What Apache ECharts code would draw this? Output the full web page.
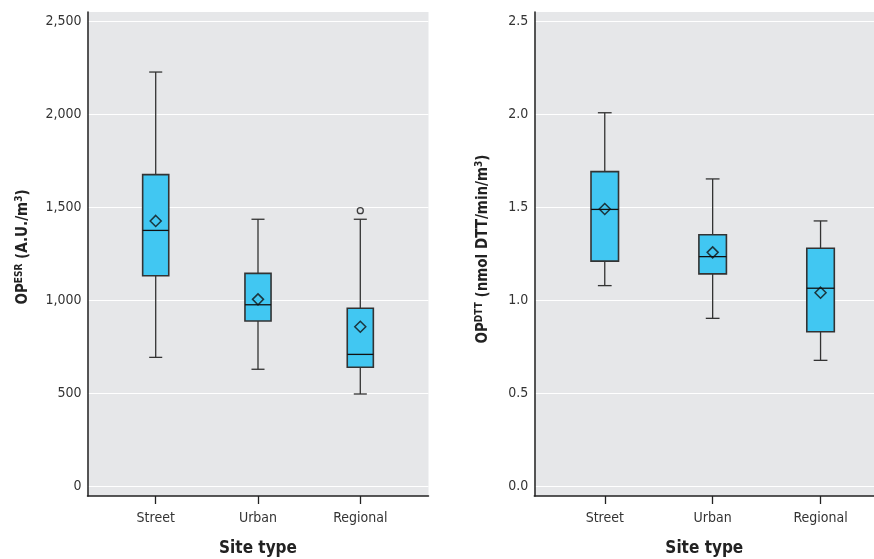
<!DOCTYPE html>
<html>
<head>
<meta charset="utf-8">
<script src="https://cdn.jsdelivr.net/npm/echarts@6/dist/echarts.min.js"></script>
<style>
html,body{margin:0;padding:0;background:#fff;}
#main{width:874px;height:559px;}
</style>
</head>
<body>
<div id="main"></div>
<script>
// ---- data ----
const categories = ['Street', 'Urban', 'Regional'];
// [lower whisker, Q1, median, Q3, upper whisker]
const esrBoxes = [
  [692, 1131, 1375, 1675, 2227],
  [628, 888, 975, 1144, 1435],
  [495, 639, 708, 956, 1435]
];
const esrMeans = [1426, 1004, 857];
const esrOutliers = [[2, 1481]]; // [category index, value]
const dttBoxes = [
  [1.078, 1.210, 1.488, 1.691, 2.008],
  [0.902, 1.141, 1.234, 1.352, 1.652],
  [0.676, 0.830, 1.064, 1.279, 1.426]
];
const dttMeans = [1.490, 1.257, 1.040];
const dttOutliers = [];
const esrTicks = [0, 500, 1000, 1500, 2000, 2500];
const dttTicks = [0, 0.5, 1.0, 1.5, 2.0, 2.5];
const catPositions = [1, 2, 3];

// ---- styles ----
const FONT = '"Liberation Sans Narrow", "DejaVu Sans Condensed", "Roboto Condensed", "Liberation Sans", sans-serif';
const BOX_FILL = '#41C7F2';
const BOX_STROKE = '#333333';
const BG = '#E6E7E9';

function boxData(boxes) {
  return boxes.map((b, i) => [catPositions[i]].concat(b));
}
function meanData(means) {
  return means.map((m, i) => [catPositions[i], m]);
}
function outlierData(out) {
  return out.map(o => [catPositions[o[0]], o[1]]);
}

function renderBox(params, api) {
  const x = api.value(0);
  const lo = api.coord([x, api.value(1)]);
  const q1 = api.coord([x, api.value(2)]);
  const md = api.coord([x, api.value(3)]);
  const q3 = api.coord([x, api.value(4)]);
  const hi = api.coord([x, api.value(5)]);
  const w = api.size([0.255, 0])[0];
  const cx = lo[0];
  const lineStyle = {stroke: BOX_STROKE, lineWidth: 1.3, fill: null};
  return {
    type: 'group',
    children: [
      {type: 'line', shape: {x1: cx, y1: q3[1], x2: cx, y2: hi[1]}, style: lineStyle},
      {type: 'line', shape: {x1: cx - w / 4, y1: hi[1], x2: cx + w / 4, y2: hi[1]}, style: lineStyle},
      {type: 'line', shape: {x1: cx, y1: q1[1], x2: cx, y2: lo[1]}, style: lineStyle},
      {type: 'line', shape: {x1: cx - w / 4, y1: lo[1], x2: cx + w / 4, y2: lo[1]}, style: lineStyle},
      {type: 'rect', shape: {x: cx - w / 2, y: q3[1], width: w, height: q1[1] - q3[1]},
        style: {fill: BOX_FILL, stroke: BOX_STROKE, lineWidth: 1.6}},
      {type: 'line', shape: {x1: cx - w / 2, y1: md[1], x2: cx + w / 2, y2: md[1]},
        style: {stroke: '#111', lineWidth: 1.3}}
    ]
  };
}

function xAxisFor(gridIndex, min, max) {
  return {
    type: 'value', gridIndex: gridIndex, min: min, max: max,
    name: 'Site type', nameLocation: 'middle', nameGap: 44,
    nameTextStyle: {fontFamily: FONT, fontSize: 17, fontWeight: 'bold', color: '#222'},
    axisLine: {show: true, onZero: false, lineStyle: {color: '#222', width: 1.5}},
    axisTick: {show: true, inside: false, length: 8, customValues: catPositions,
      lineStyle: {color: '#222', width: 1.3}},
    axisLabel: {customValues: catPositions, margin: 15, fontFamily: FONT, fontSize: 14, color: '#333',
      formatter: v => categories[Math.round(v) - 1] || ''},
    splitLine: {show: false}
  };
}

function yAxisFor(gridIndex, min, max, ticks, fmt, rich, name, gap, shift) {
  return {
    type: 'value', gridIndex: gridIndex, min: min, max: max,
    name: name, nameLocation: 'middle', nameGap: gap, nameRotate: 90,
    nameTextStyle: {fontFamily: FONT, fontSize: 15, fontWeight: 'bold', color: '#222', rich: rich,
      padding: [0, 0, 0, shift]},
    axisLine: {show: true, lineStyle: {color: '#222', width: 1.5}},
    axisTick: {show: false, customValues: ticks},
    axisLabel: {customValues: ticks, margin: 6, fontFamily: FONT, fontSize: 14, color: '#333', formatter: fmt},
    splitLine: {show: true, lineStyle: {color: '#ffffff', width: 1}}
  };
}

const richTitle = {
  b: {fontFamily: FONT, fontSize: 15, fontWeight: 'bold', color: '#222', lineHeight: 18},
  s: {fontFamily: FONT, fontSize: 10, fontWeight: 'bold', color: '#222', lineHeight: 18, verticalAlign: 'top', padding: [0, 0, 5, 0]}
};

const chart = echarts.init(document.getElementById('main'), null, {renderer: 'canvas'});
chart.setOption({
  animation: false,
  backgroundColor: '#ffffff',
  grid: [
    {left: 87.5, top: 12, width: 341, height: 484, show: true, backgroundColor: BG, borderWidth: 0,
      containLabel: false, outerBoundsMode: 'none'},
    {left: 534.3, top: 12, width: 340, height: 484, show: true, backgroundColor: BG, borderWidth: 0,
      containLabel: false, outerBoundsMode: 'none'}
  ],
  xAxis: [
    xAxisFor(0, 1 - 0.6667, 3 + 0.6667),
    xAxisFor(1, 1 - 0.653, 3 + (874 - 820.3) / 107.8)
  ],
  yAxis: [
    yAxisFor(0, -53.8, 2550, esrTicks,
      v => v.toLocaleString('en-US'), richTitle,
      '{b|OP}{s|ESR}{b| (A.U./m}{s|3}{b|)}', 55, 14),
    yAxisFor(1, -0.0538, 2.55, dttTicks,
      v => v.toFixed(1), richTitle,
      '{b|OP}{s|DTT}{b| (nmol DTT/min/m}{s|3}{b|)}', 42, 10)
  ],
  series: [
    {type: 'custom', xAxisIndex: 0, yAxisIndex: 0, renderItem: renderBox,
      encode: {x: 0, y: [1, 2, 3, 4, 5]}, data: boxData(esrBoxes), z: 2},
    {type: 'scatter', xAxisIndex: 0, yAxisIndex: 0, symbol: 'diamond', symbolSize: 11,
      itemStyle: {color: 'rgba(0,0,0,0)', borderColor: '#111', borderWidth: 1.5},
      data: meanData(esrMeans), z: 3},
    {type: 'scatter', xAxisIndex: 0, yAxisIndex: 0, symbol: 'circle', symbolSize: 6,
      itemStyle: {color: 'rgba(0,0,0,0)', borderColor: '#111', borderWidth: 1.3},
      data: outlierData(esrOutliers), z: 3},
    {type: 'custom', xAxisIndex: 1, yAxisIndex: 1, renderItem: renderBox,
      encode: {x: 0, y: [1, 2, 3, 4, 5]}, data: boxData(dttBoxes), z: 2},
    {type: 'scatter', xAxisIndex: 1, yAxisIndex: 1, symbol: 'diamond', symbolSize: 11,
      itemStyle: {color: 'rgba(0,0,0,0)', borderColor: '#111', borderWidth: 1.5},
      data: meanData(dttMeans), z: 3},
    {type: 'scatter', xAxisIndex: 1, yAxisIndex: 1, symbol: 'circle', symbolSize: 6,
      itemStyle: {color: 'rgba(0,0,0,0)', borderColor: '#111', borderWidth: 1.3},
      data: outlierData(dttOutliers), z: 3}
  ]
});
</script>
</body>
</html>
